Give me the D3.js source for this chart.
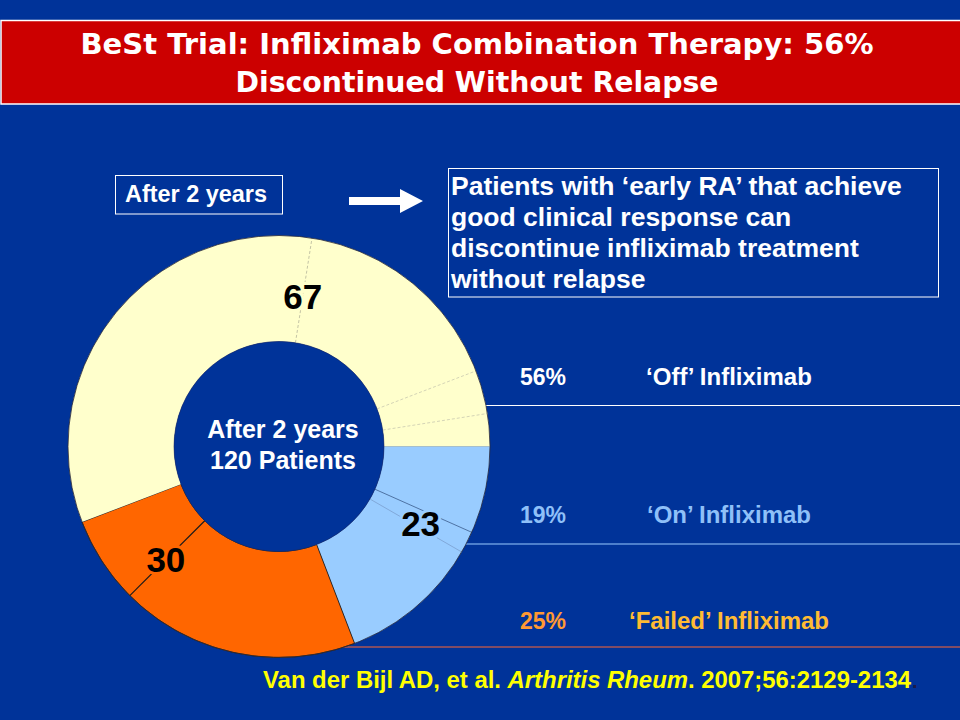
<!DOCTYPE html>
<html>
<head>
<meta charset="utf-8">
<script src="https://cdn.jsdelivr.net/npm/d3@7"></script>
<style>
  html, body { margin: 0; padding: 0; background: #003399; }
  svg { display: block; }
  text { font-family: "Liberation Sans", Arial, sans-serif; font-weight: bold; }
</style>
</head>
<body>
<div id="chart"></div>
<script>
const categories = ["‘Off’ Infliximab", "‘On’ Infliximab", "‘Failed’ Infliximab"];
const patients = [67, 23, 30];
const percents = ["56%", "19%", "25%"];
// sub-groups inside each slice, only visible as thin divider lines
const subgroups = [[40, 20, 4, 3], [8, 2, 13], [22, 8]];
// clockwise from 3 o'clock: On, Failed, Off
const drawOrder = [1, 2, 0];
const titleLines = ["BeSt Trial: Infliximab Combination Therapy: 56%", "Discontinued Without Relapse"];
const noteLines = ["Patients with ‘early RA’ that achieve", "good clinical response can",
                   "discontinue infliximab treatment", "without relapse"];
const centerLines = ["After 2 years", "120 Patients"];
const boxLabel = "After 2 years";
const citation = ["Van der Bijl AD, et al. ", "Arthritis Rheum", ". 2007;56:2129-2134"];

const W = 960, H = 720;
const bg = "#003399";
const sliceColor = ["#ffffcc", "#99ccff", "#ff6600"];
const pctColor = ["#ffffff", "#8fc0f8", "#ff9933"];
const nameColor = ["#ffffff", "#8fc0f8", "#ffbb33"];
const ruleColor = ["#ffffff", "#99ccff", "#ff6633"];
const rowBase = [385, 523, 629];
const ruleY = [405.5, 544, 647];

const svg = d3.select("#chart").append("svg")
    .attr("width", W).attr("height", H);

svg.append("rect").attr("width", W).attr("height", H).attr("fill", bg);

// title bar
svg.append("rect")
    .attr("x", 1).attr("y", 20.5).attr("width", W + 2).attr("height", 83.5)
    .attr("fill", "#cc0000").attr("stroke", "#ffffff").attr("stroke-width", 1.5);

const titleLen = [793, 483];
svg.selectAll(".title").data(titleLines).enter().append("text")
    .attr("class", "title")
    .attr("x", 477).attr("y", (d, i) => 54 + i * 38)
    .attr("text-anchor", "middle")
    .attr("fill", "#ffffff")
    .style("font-family", "'DejaVu Sans', Verdana, sans-serif")
    .style("font-size", "29px")
    .attr("textLength", (d, i) => titleLen[i])
    .attr("lengthAdjust", "spacingAndGlyphs")
    .text(d => d);

// "After 2 years" box
svg.append("rect")
    .attr("x", 115.5).attr("y", 175.5).attr("width", 167).attr("height", 38.5)
    .attr("fill", "none").attr("stroke", "#ffffff").attr("stroke-width", 1);
svg.append("text")
    .attr("x", 125).attr("y", 202)
    .attr("fill", "#ffffff").style("font-size", "23px")
    .attr("textLength", 142).attr("lengthAdjust", "spacingAndGlyphs")
    .text(boxLabel);

// arrow
svg.append("path")
    .attr("d", "M349,197 L400,197 L400,189 L423,201 L400,213 L400,205 L349,205 Z")
    .attr("fill", "#ffffff");

// note box
svg.append("rect")
    .attr("x", 448.5).attr("y", 168.5).attr("width", 490).attr("height", 128.5)
    .attr("fill", "none").attr("stroke", "#ffffff").attr("stroke-width", 1);
svg.selectAll(".note").data(noteLines).enter().append("text")
    .attr("class", "note")
    .attr("x", 451).attr("y", (d, i) => 195 + i * 31)
    .attr("fill", "#ffffff").style("font-size", "26.5px")
    .text(d => d);

// legend rules (drawn under the donut)
svg.selectAll(".rule").data(ruleY).enter().append("line")
    .attr("class", "rule")
    .attr("x1", 280).attr("x2", W)
    .attr("y1", d => d).attr("y2", d => d)
    .attr("stroke", (d, i) => ruleColor[i]).attr("stroke-width", 1.2);

// legend text
const rows = svg.selectAll(".row").data(categories).enter().append("g").attr("class", "row");
rows.append("text")
    .attr("x", 520).attr("y", (d, i) => rowBase[i])
    .attr("fill", (d, i) => pctColor[i]).style("font-size", "23px")
    .text((d, i) => percents[i]);
rows.append("text")
    .attr("x", 729).attr("y", (d, i) => rowBase[i])
    .attr("text-anchor", "middle")
    .attr("fill", (d, i) => nameColor[i]).style("font-size", "24px")
    .text(d => d);

// donut
const cx = 279, cy = 446.5, rOut = 211, rIn = 105;
const total = d3.sum(patients);
const angle = d3.scaleLinear().domain([0, total]).range([0, 2 * Math.PI]);

const pie = d3.pie()
    .sort(null)
    .value(d => d.value)
    .startAngle(Math.PI / 2)
    .endAngle(Math.PI / 2 + 2 * Math.PI);

const slices = pie(drawOrder.map(i => ({i: i, value: patients[i]})));
const arc = d3.arc().innerRadius(rIn).outerRadius(rOut);

const g = svg.append("g").attr("transform", "translate(" + cx + "," + cy + ")");

g.selectAll(".slice").data(slices).enter().append("path")
    .attr("class", "slice")
    .attr("d", arc)
    .attr("fill", d => sliceColor[d.data.i])
    .attr("stroke", d => d.data.i === 2 ? "#222222" : "none")
    .attr("stroke-width", 0.9);

// faint sub-group dividers
const radial = d3.lineRadial();
const divStroke = [["#b5b59a", "#c9c9b0", "#c9c9b0"], ["#3b5c8c", "#7b9fcf"], ["#1a1a1a"]];
const divDash = ["3,2", null, null];
slices.forEach(s => {
  let cum = 0;
  subgroups[s.data.i].slice(0, -1).forEach((v, k) => {
    cum += v;
    const a = s.startAngle + angle(cum);
    g.append("path")
      .attr("d", radial([[a, rIn], [a, rOut]]))
      .attr("fill", "none")
      .attr("stroke", divStroke[s.data.i][k])
      .attr("stroke-width", s.data.i === 2 ? 1.1 : 0.8)
      .attr("stroke-dasharray", divDash[s.data.i]);
  });
});

// outer rim
g.append("circle").attr("r", rOut)
    .attr("fill", "none").attr("stroke", "#2a2a3a").attr("stroke-width", 0.8);

// centre hole
g.append("circle").attr("r", rIn).attr("fill", bg)
    .attr("stroke", "#1b2a66").attr("stroke-width", 0.6);

g.selectAll(".center").data(centerLines).enter().append("text")
    .attr("class", "center")
    .attr("x", 4).attr("y", (d, i) => -8.5 + i * 31)
    .attr("text-anchor", "middle")
    .attr("fill", "#ffffff").style("font-size", "25px")
    .text(d => d);

// slice value labels, sitting on the first divider of each slice
const labelNudge = [0, 4.4, 0];
const labelR = [152, 161, 160];
g.selectAll(".val").data(slices).enter().append("text")
    .attr("class", "val")
    .attr("transform", d => {
      const i = d.data.i;
      const a = d.startAngle + angle(subgroups[i][0]) + labelNudge[i] * Math.PI / 180;
      const p = d3.pointRadial(a, labelR[i]);
      return "translate(" + p[0] + "," + p[1] + ")";
    })
    .attr("text-anchor", "middle")
    .attr("dy", "0.36em")
    .attr("fill", "#000000")
    .attr("stroke", d => sliceColor[d.data.i])
    .attr("stroke-width", 6)
    .style("paint-order", "stroke")
    .style("font-size", "35px")
    .text(d => d.data.value);

// citation
const cite = svg.append("text")
    .attr("x", 263).attr("y", 688)
    .attr("fill", "#ffff00").style("font-size", "23px")
    .attr("textLength", 648).attr("lengthAdjust", "spacingAndGlyphs");
cite.selectAll("tspan").data(citation).enter().append("tspan")
    .style("font-style", (d, i) => i === 1 ? "italic" : "normal")
    .text(d => d);
svg.append("text")
    .attr("x", 912).attr("y", 688)
    .attr("fill", "#1a1a4a").style("font-size", "20px")
    .text(".");
</script>
</body>
</html>
